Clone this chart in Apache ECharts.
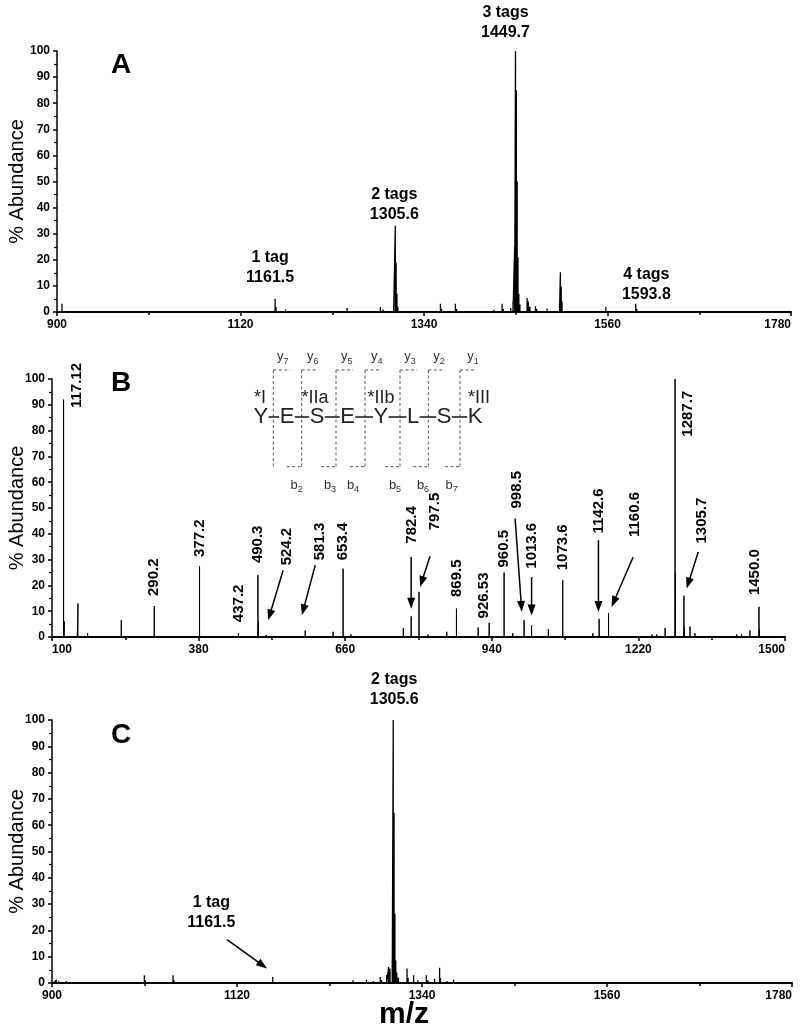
<!DOCTYPE html>
<html>
<head>
<meta charset="utf-8">
<script src="https://cdn.jsdelivr.net/npm/echarts@6/dist/echarts.min.js"></script>
<style>html,body{margin:0;padding:0;background:#fff}#chart{width:800px;height:1032px}</style>
</head>
<body>
<div id="chart"></div>
<script>
// ---------------- DATA ----------------
// Panel A: m/z and % abundance
const mzA = [906, 912, 1161.5, 1162.5, 1174, 1200, 1230, 1247.8, 1262, 1287.7, 1291, 1303.6, 1305.6, 1306.6, 1307.6, 1308.6, 1320, 1335, 1359.7, 1361, 1377.6, 1379, 1392, 1400, 1408, 1416, 1424, 1433.6, 1435, 1444, 1446.7, 1448.7, 1449.7, 1450.7, 1451.7, 1452.7, 1453.7, 1455, 1463.6, 1465, 1467, 1473.6, 1475, 1480, 1487.6, 1495, 1502.5, 1503.5, 1504.5, 1505.5, 1510, 1520, 1535, 1558, 1593.8, 1595];
const abA = [3.2, 0.6, 5.1, 2, 0.9, 0.3, 0.4, 1.5, 0.4, 1.9, 1.0, 2.5, 33, 19, 7, 2, 0.5, 0.5, 3.2, 1.2, 3.2, 1.2, 0.5, 0.6, 0.5, 0.6, 0.8, 3.2, 1.2, 1.5, 4, 25, 100, 85, 50, 21, 7, 3, 5.4, 4, 2, 2.2, 1.2, 0.6, 1.3, 0.5, 3, 15.2, 9.8, 4, 0.7, 0.4, 0.4, 1.9, 3.2, 1.2];
// Panel B
const mzB = [105, 122.1, 123.5, 148.5, 149.6, 168, 200, 232.3, 260, 295.3, 330, 381.8, 420, 456, 493.3, 494.5, 509, 520, 550, 583.6, 610, 637, 656, 671, 700, 730, 771, 786, 801, 818, 854, 872.5, 900, 914, 935, 963.5, 980, 1001.7, 1016, 1030, 1048, 1075.5, 1100, 1133, 1145, 1163, 1190, 1210, 1230, 1246, 1255, 1271, 1290, 1290.8, 1307, 1308, 1318.6, 1328, 1350, 1380, 1407.8, 1417, 1433, 1450.3, 1451.3, 1470, 1490];
const abB = [0.5, 92, 6, 2.5, 13, 1.5, 0.4, 6.5, 0.4, 12, 0.4, 27.5, 0.5, 1.5, 24, 6, 0.8, 0.5, 0.4, 2.5, 0.4, 2, 26.5, 1, 0.4, 0.5, 3.5, 8, 17.5, 1, 2, 11, 0.5, 3.7, 5.5, 25, 1.5, 6.5, 4.5, 0.5, 3, 22, 0.5, 1.5, 7, 9.3, 0.4, 0.5, 0.4, 1, 1, 3.5, 100, 25, 16, 4, 4, 1.5, 0.4, 0.5, 1, 1, 2.5, 11.7, 3, 0.5, 0.4];
// Panel C
const mzC = [903, 905, 908, 917, 930, 950, 970, 990, 1009.8, 1011, 1030, 1043.9, 1045, 1060, 1080, 1100, 1115, 1140, 1162.5, 1180, 1200, 1220, 1240, 1258, 1274, 1282, 1290.4, 1292, 1298, 1300.3, 1302, 1304.6, 1305.8, 1306.8, 1307.8, 1308.8, 1310, 1312, 1322.2, 1323.5, 1330, 1335, 1345.1, 1347, 1355, 1360.9, 1362, 1370, 1377.6, 1390, 1405, 1420];
const abC = [0.8, 1.2, 0.8, 0.8, 0.4, 0.4, 0.4, 0.5, 2.9, 1, 0.4, 2.9, 1, 0.5, 0.4, 0.4, 0.5, 0.4, 2.3, 0.4, 0.5, 0.4, 0.6, 1, 1.2, 0.8, 2.3, 1, 3, 6.1, 5.5, 9, 100, 64.7, 26.4, 8.6, 4, 2, 5.5, 2, 2.9, 1, 2.9, 1, 1.6, 5.8, 2, 0.8, 1.3, 0.4, 0.3, 0.3];

// Axis tick values
const xTicksAC = [900, 1120, 1340, 1560, 1780];
const xTicksB = [100, 380, 660, 940, 1220, 1500];
const yTicks = [0, 10, 20, 30, 40, 50, 60, 70, 80, 90, 100];

// Annotation texts and the peaks they refer to
const tagTextA = ['1 tag\n1161.5', '2 tags\n1305.6', '3 tags\n1449.7', '4 tags\n1593.8'];
const tagPeakA = [1161.5, 1305.6, 1449.7, 1593.8];
const tagTextC = ['2 tags\n1305.6', '1 tag\n1161.5'];
const tagPeakC = [1305.8, 1162.5];
const ionTextB = ['117.12', '290.2', '377.2', '437.2', '490.3', '524.2', '581.3', '653.4', '782.4', '797.5', '869.5', '926.53', '960.5', '998.5', '1013.6', '1073.6', '1142.6', '1160.6', '1287.7', '1305.7', '1450.0'];
const ionPeakB = [122.1, 295.3, 381.8, 456, 493.3, 509, 583.6, 656, 786, 801, 872.5, 935, 963.5, 1001.7, 1016, 1075.5, 1145, 1163, 1290, 1307, 1450.3];
const residues = ['Y', 'E', 'S', 'E', 'Y', 'L', 'S', 'K'];
const yIons = ['7', '6', '5', '4', '3', '2', '1'];
const bIons = ['2', '3', '4', '5', '6', '7'];
const mods = ['*I', '*IIa', '*IIb', '*III'];

// ---------------- LAYOUT (pixel offsets, styles) ----------------
const FONT = "'Liberation Sans', Arial, Helvetica, sans-serif";
// offsets [dx, dy] of label bottom-centre relative to peak top
const tagOffA = [[-5, -11], [-1, -1], [-10, -8.6], [10.7, 0.8]];
const tagOffC = [[1, -10.6], [-61.4, -44.3]];
const arrowC = [null, [-45.7, -37.4, -5.7, -8.4]];
// B ion labels: dx, dy of text bottom relative to peak top; optional arrow
const ionLayB = [
  {dx: 13.4, dy: 8.4}, {dx: 0, dy: -10}, {dx: 0.7, dy: -9}, {dx: 0.7, dy: -11}, {dx: 0.3, dy: -12},
  {dx: 21, dy: -69.6, ar: [17, -64.6, 2, -14.6]},
  {dx: 15, dy: -70.3, ar: [10, -65.3, -3.3, -15.3]},
  {dx: 0, dy: -8.4},
  {dx: 0.7, dy: -72.7, ar: [0, -59.3, 0, -7.7]},
  {dx: 16, dy: -61.6, ar: [11, -35.6, 1, -4.9]},
  {dx: 0.4, dy: -11.6}, {dx: -5, dy: -4.4}, {dx: 0, dy: -5},
  {dx: -7.3, dy: -111.7, ar: [-9, -101.7, -2.3, -8.3]},
  {dx: 0, dy: -56.7, ar: [0, -48.3, 0, -10]},
  {dx: 0, dy: -10},
  {dx: -0.7, dy: -85.4, ar: [-0.7, -78.7, -0.7, -7]},
  {dx: 26.3, dy: -76, ar: [24.6, -56, 3, -6]},
  {dx: 13.3, dy: 57.7},
  {dx: 17.7, dy: -52.2, ar: [14.3, -43.8, 2.7, -7.2]},
  {dx: -4, dy: -11.7}
];

function sticks(mz, ab) {
  const idx = mz.map((_, i) => i).sort((a, b) => mz[a] - mz[b]);
  const d = [];
  idx.forEach(i => { d.push([mz[i], 0], [mz[i], ab[i]], [mz[i], 0]); });
  return d;
}

function xAx(grid, ticks) {
  return {
    gridIndex: grid, type: 'value', min: ticks[0], max: ticks[ticks.length - 1],
    interval: ticks[1] - ticks[0],
    axisLine: {show: true, onZero: false, lineStyle: {color: '#000', width: 2}},
    axisTick: {show: true, length: 4, lineStyle: {color: '#000', width: 1.5}},
    minorTick: {show: true, splitNumber: 2, length: 3, lineStyle: {color: '#000', width: 1.5}},
    splitLine: {show: false},
    axisLabel: {color: '#000', fontFamily: FONT, fontWeight: 'bold', fontSize: 12, margin: 7,
      formatter: v => String(v),
      showMinLabel: true, showMaxLabel: true, alignMaxLabel: 'right', alignMinLabel: grid === 1 ? 'left' : 'center'}
  };
}
function yAx(grid, gap) {
  return {
    gridIndex: grid, type: 'value', min: yTicks[0], max: yTicks[yTicks.length - 1], interval: yTicks[1] - yTicks[0],
    name: '% Abundance', nameLocation: 'middle', nameGap: gap, nameMoveOverlap: false,
    nameTextStyle: {fontFamily: FONT, fontSize: 20, color: '#000'},
    axisLine: {show: true, lineStyle: {color: '#000', width: 1.5}},
    axisTick: {show: true, length: 4, lineStyle: {color: '#000', width: 1.5}},
    minorTick: {show: true, splitNumber: 2, length: 3, lineStyle: {color: '#000', width: 1.2}},
    splitLine: {show: false},
    axisLabel: {color: '#000', fontFamily: FONT, fontWeight: 'bold', fontSize: 12, margin: 7, formatter: v => String(v)}
  };
}
function spec(grid, data, w) {
  return {type: 'line', xAxisIndex: grid, yAxisIndex: grid, data: data, showSymbol: false, symbol: 'none',
    lineStyle: {color: '#000', width: w}, animation: false, silent: true, z: 3};
}

const chart = echarts.init(document.getElementById('chart'), null, {renderer: 'canvas'});
chart.setOption({
  animation: false,
  backgroundColor: '#fff',
  textStyle: {fontFamily: FONT},
  grid: [
    {left: 57, right: 9, top: 51, height: 261, containLabel: false, outerBoundsMode: 'none'},
    {left: 52, right: 15, top: 379, height: 258, containLabel: false, outerBoundsMode: 'none'},
    {left: 52, right: 8, top: 720, height: 263, containLabel: false, outerBoundsMode: 'none'}
  ],
  xAxis: [xAx(0, xTicksAC), xAx(1, xTicksB), xAx(2, xTicksAC)],
  yAxis: [yAx(0, 30), yAx(1, 25), yAx(2, 25)],
  series: [spec(0, sticks(mzA, abA), 1.3), spec(1, sticks(mzB, abB), 1), spec(2, sticks(mzC, abC), 1.3)]
});

// ---------------- ANNOTATIONS ----------------
const g = [];
function P(grid, mz, ab) { return chart.convertToPixel({xAxisIndex: grid, yAxisIndex: grid}, [mz, ab]); }
function hOf(mz, ab, v) { return ab[mz.indexOf(v)]; }
function text(x, y, t, st, extra) {
  g.push(Object.assign({type: 'text', x: x, y: y, silent: true, z: 100,
    style: Object.assign({text: t, fill: '#000', fontFamily: FONT, align: 'center', textAlign: 'center',
      verticalAlign: 'middle', textVerticalAlign: 'middle'}, st)}, extra || {}));
}
function line(x1, y1, x2, y2, st) {
  g.push({type: 'line', silent: true, z: 100, shape: {x1, y1, x2, y2},
    style: Object.assign({stroke: '#000', lineWidth: 1.5}, st || {})});
}
function arrow(x1, y1, x2, y2) {
  const L = 11, W = 4;
  const dx = x2 - x1, dy = y2 - y1, len = Math.hypot(dx, dy), ux = dx / len, uy = dy / len;
  const bx = x2 - ux * L, by = y2 - uy * L;
  line(x1, y1, bx + ux, by + uy, {lineWidth: 1.5});
  g.push({type: 'polygon', silent: true, z: 100,
    shape: {points: [[x2, y2], [bx - uy * W, by + ux * W], [bx + uy * W, by - ux * W]]},
    style: {fill: '#000'}});
}
const tagStyle = {fontSize: 16, fontWeight: 'bold', lineHeight: 20, verticalAlign: 'bottom', textVerticalAlign: 'bottom'};

// Panel A tags
tagTextA.forEach((t, i) => {
  const p = P(0, tagPeakA[i], hOf(mzA, abA, tagPeakA[i]));
  text(p[0] + tagOffA[i][0], p[1] + tagOffA[i][1], t, tagStyle);
});
// Panel C tags
tagTextC.forEach((t, i) => {
  const p = P(2, tagPeakC[i], hOf(mzC, abC, tagPeakC[i]));
  text(p[0] + tagOffC[i][0], p[1] + tagOffC[i][1], t, tagStyle);
  if (arrowC[i]) { const a = arrowC[i]; arrow(p[0] + a[0], p[1] + a[1], p[0] + a[2], p[1] + a[3]); }
});
// Panel B ion labels (vertical)
ionTextB.forEach((t, i) => {
  const p = P(1, ionPeakB[i], hOf(mzB, abB, ionPeakB[i]));
  const L = ionLayB[i];
  text(p[0] + L.dx, p[1] + L.dy, t, {fontSize: 15, fontWeight: 'bold', align: 'left', textAlign: 'left'},
    {rotation: Math.PI / 2});
  if (L.ar) arrow(p[0] + L.ar[0], p[1] + L.ar[1], p[0] + L.ar[2], p[1] + L.ar[3]);
});

// Panel letters
text(121, 65.3, 'A', {fontSize: 28, fontWeight: 'bold'});
text(121, 383.3, 'B', {fontSize: 28, fontWeight: 'bold'});
text(121, 735.3, 'C', {fontSize: 28, fontWeight: 'bold'});
// x axis title
text(404, 1014.6, 'm/z', {fontSize: 30, fontWeight: 'bold'});

// Peptide inset in panel B
const resX = [260.8, 287, 317, 347.5, 380.8, 413, 444, 475];
const resHalf = [7.3, 7.3, 7.3, 7.3, 7.3, 6.1, 7.3, 7.3];
const rowY = 417;
const cutX = [273.3, 301.7, 336, 365, 400, 428.3, 460];
const yLabX = [282.7, 312.7, 346.7, 376.7, 410, 439, 473];
const bLabX = [296.7, 330, 353, 395, 423, 451.7];
const modX = [260, 315, 381, 479];
const dash = {stroke: '#555', lineWidth: 1, lineDash: [3, 2.5]};
cutX.forEach((x, i) => {
  line(x, 370, x, 466.7, dash);
  line(x, 370, x + 17, 370, dash);
  if (i > 0) line(x - 15, 466.7, x, 466.7, dash);
});
for (let i = 0; i < residues.length - 1; i++) {
  line(resX[i] + resHalf[i] + 0.5, rowY, resX[i + 1] - resHalf[i + 1] - 0.5, rowY, {lineWidth: 1.6, stroke: '#222'});
}
residues.forEach((r, i) => text(resX[i], rowY, r, {fontSize: 22, fill: '#222'}));
const ionRich = {m: {fontSize: 13, fontFamily: FONT, fill: '#333', verticalAlign: 'middle', lineHeight: 18},
                 s: {fontSize: 9, fontFamily: FONT, fill: '#333', verticalAlign: 'bottom', lineHeight: 18}};
yIons.forEach((n, i) => text(yLabX[i], 356.7, '{m|y}{s|' + n + '}', {rich: ionRich}));
bIons.forEach((n, i) => text(bLabX[i], 485, '{m|b}{s|' + n + '}', {rich: ionRich}));
mods.forEach((m, i) => text(modX[i], 398, m, {fontSize: 18, fill: '#222'}));

chart.setOption({graphic: g});
</script>
</body>
</html>
